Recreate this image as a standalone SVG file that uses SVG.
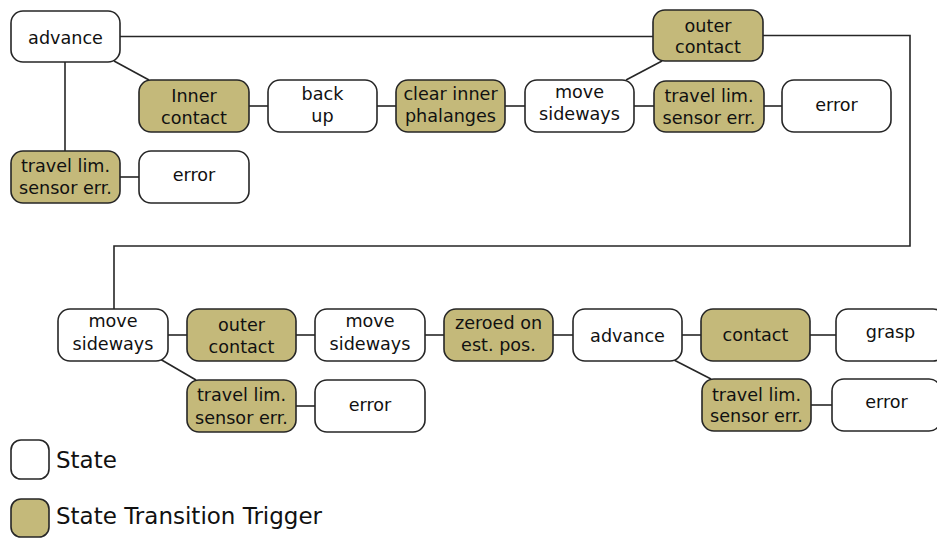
<svg xmlns="http://www.w3.org/2000/svg" width="937" height="538" viewBox="0 0 937 538">
<style>
.s{fill:#ffffff;stroke:#262626;stroke-width:1.6}
.t{fill:#c4b97a;stroke:#262626;stroke-width:1.6}
text{font-family:"DejaVu Sans",sans-serif;font-size:17.6px;fill:#111;text-anchor:middle}
.lg{font-size:23px;text-anchor:start}
#connectors path{fill:none;stroke:#262626;stroke-width:1.6}
</style>
<rect width="937" height="538" fill="#ffffff"/>
<g id="connectors">
<path d="M120,36.5H653"/>
<path d="M763,35.5H910V246H114V309"/>
<path d="M114,61L149,80"/>
<path d="M65,62V151"/>
<path d="M120,177H139"/>
<path d="M249,106H268"/>
<path d="M377,106H396"/>
<path d="M505,106H525"/>
<path d="M626,80L662,61"/>
<path d="M634,106H654"/>
<path d="M764,106H782"/>
<path d="M168,335H187"/>
<path d="M296,335H315"/>
<path d="M425,335H444"/>
<path d="M553,335H573"/>
<path d="M682,335H701"/>
<path d="M810,335H836"/>
<path d="M160,359L196,380"/>
<path d="M296,406H315"/>
<path d="M674,360L711,379"/>
<path d="M811,405H832"/>
</g>
<g id="advance1"><rect class="s" x="11" y="11" width="109" height="51" rx="12"/><text x="65.5" y="44">advance</text></g>
<g id="inner-contact"><rect class="t" x="139" y="80" width="110" height="52" rx="12"/><text x="194" y="101.5">Inner</text><text x="194" y="123.5">contact</text></g>
<g id="back-up"><rect class="s" x="268" y="80" width="109" height="52" rx="12"/><text x="322.5" y="100">back</text><text x="322.5" y="122">up</text></g>
<g id="clear-inner"><rect class="t" x="396" y="80" width="109" height="52" rx="12"/><text x="450.5" y="100">clear inner</text><text x="450.5" y="122">phalanges</text></g>
<g id="move-sideways1"><rect class="s" x="525" y="80" width="109" height="52" rx="12"/><text x="579.5" y="98">move</text><text x="579.5" y="120">sideways</text></g>
<g id="outer-contact1"><rect class="t" x="653" y="10" width="110" height="51" rx="12"/><text x="708" y="31.5">outer</text><text x="708" y="53">contact</text></g>
<g id="travel-lim1"><rect class="t" x="654" y="81" width="110" height="51" rx="12"/><text x="709" y="101.5">travel lim.</text><text x="709" y="124">sensor err.</text></g>
<g id="error1"><rect class="s" x="782" y="80" width="109" height="52" rx="12"/><text x="836.5" y="111">error</text></g>
<g id="travel-lim0"><rect class="t" x="11" y="151" width="109" height="52" rx="12"/><text x="65.5" y="172.3">travel lim.</text><text x="65.5" y="194.3">sensor err.</text></g>
<g id="error0"><rect class="s" x="139" y="151" width="110" height="52" rx="12"/><text x="194" y="181">error</text></g>
<g id="move-sideways2"><rect class="s" x="58" y="309" width="110" height="52" rx="12"/><text x="113" y="326.7">move</text><text x="113" y="350">sideways</text></g>
<g id="outer-contact2"><rect class="t" x="187" y="309" width="109" height="52" rx="12"/><text x="241.5" y="330.7">outer</text><text x="241.5" y="352.7">contact</text></g>
<g id="move-sideways3"><rect class="s" x="315" y="309" width="110" height="52" rx="12"/><text x="370" y="326.7">move</text><text x="370" y="350">sideways</text></g>
<g id="zeroed"><rect class="t" x="444" y="309" width="109" height="52" rx="12"/><text x="498.5" y="329.3">zeroed on</text><text x="498.5" y="351">est. pos.</text></g>
<g id="advance2"><rect class="s" x="573" y="309" width="109" height="52" rx="12"/><text x="627.5" y="341.7">advance</text></g>
<g id="contact"><rect class="t" x="701" y="309" width="109" height="52" rx="12"/><text x="755.5" y="340.7">contact</text></g>
<g id="grasp"><rect class="s" x="836" y="309" width="109" height="52" rx="12"/><text x="890.5" y="338.3">grasp</text></g>
<g id="travel-lim2"><rect class="t" x="187" y="380" width="109" height="52" rx="12"/><text x="241.5" y="401">travel lim.</text><text x="241.5" y="423.7">sensor err.</text></g>
<g id="error2"><rect class="s" x="315" y="380" width="110" height="52" rx="12"/><text x="370" y="410.7">error</text></g>
<g id="travel-lim3"><rect class="t" x="702" y="379" width="109" height="52" rx="12"/><text x="756.5" y="401">travel lim.</text><text x="756.5" y="422.3">sensor err.</text></g>
<g id="error3"><rect class="s" x="832" y="379" width="109" height="52" rx="12"/><text x="886.5" y="408.3">error</text></g>
<g id="legend-state"><rect class="s" x="11" y="440" width="38" height="39" rx="10"/><text class="lg" x="56" y="468">State</text></g>
<g id="legend-trigger"><rect class="t" x="11" y="499" width="38" height="38" rx="10"/><text class="lg" x="56" y="524">State Transition Trigger</text></g>
</svg>
